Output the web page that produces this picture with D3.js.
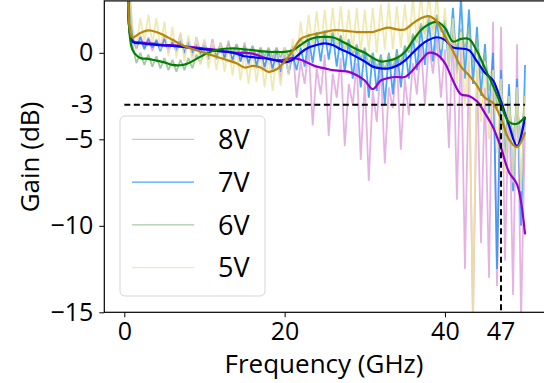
<!DOCTYPE html>
<html>
<head>
<meta charset="utf-8">
<script src="https://cdn.jsdelivr.net/npm/d3@7"></script>
<style>
  body { margin: 0; background: #fff; }
  svg text { font-family: 'Open Sans', sans-serif; fill: #000; }
</style>
</head>
<body>
<div id="chart"></div>
<script>
// series labels and colours (raw trace, smoothed fit)
const labels = ['8V', '7V', '6V', '5V'];
const rawColors = ['#dda0dd', '#1e90ff', '#8fbc8f', '#ece39c'];
const fitColors = ['#9400d3', '#0000ff', '#008000', '#b8860b'];

// raw traces, 0.5 GHz apart from 0.5 to 50 GHz
const rawFreq = d3.range(1, 101).map(i => i / 2);
const raw8V = [
  4.5, 1.2, 0.2, 1.0, 0.3, 0.9, 0.1, 0.8, 0.2, 1.0,
  0.0, 0.8, 0.1, 1.1, -0.1, 0.8, -0.2, 0.9, 0.0, 0.7,
  -0.3, 0.8, -0.4, 0.6, -0.3, 0.7, -0.6, 0.5, -0.5, 0.6,
  -0.7, 0.4, -0.9, 0.3, -1.0, 0.2, -1.1, 0.3, -1.6, 0.2,
  -1.2, 0.4, -2.6, -0.5, -1.8, 0.3, -4.2, -0.9, -2.4, -0.1,
  -4.8, -1.2, -2.6, -0.3, -5.4, -1.8, -3.0, -0.6, -6.2, -1.6,
  -7.4, -2.2, -4.0, -0.7, -6.4, -2.0, -3.2, -0.4, -5.6, -1.5,
  -3.6, -0.6, -2.4, 0.5, -3.0, 0.6, -1.2, 0.9, -2.6, 0.2,
  -5.5, 1.5, -8.5, 0.8, -12.5, -0.5, -15.5, -1.0, -11.0, -2.0,
  -13.0, 1.8, -13.5, 1.5, -12.0, -2.0, -14.0, 0.5, -15.5, -4.0
];
const raw7V = [
  4.5, 0.9, 0.3, 0.9, 0.2, 0.8, 0.3, 0.7, 0.1, 0.8,
  0.2, 0.6, 0.1, 0.7, 0.0, 0.6, 0.0, 0.5, -0.1, 0.5,
  -0.2, 0.4, -0.3, 0.4, -0.3, 0.3, -0.4, 0.3, -0.5, 0.2,
  -0.6, 0.1, -0.7, 0.1, -0.8, 0.0, -0.9, 0.0, -1.1, 0.0,
  -1.2, -0.1, -1.0, 0.3, -0.8, 0.8, -0.6, 1.2, -0.5, 1.3,
  -0.4, 1.1, -0.8, 1.0, -1.1, 0.7, -1.5, 0.4, -2.0, 0.2,
  -2.6, 0.0, -2.2, -0.1, -3.0, 0.0, -2.4, 0.2, -2.0, 0.4,
  -1.5, 1.0, -1.0, 1.5, -0.7, 1.8, -0.5, 2.0, -0.4, 1.8,
  -0.8, 2.6, -1.2, 3.2, -1.5, 2.5, -1.8, 1.5, -2.5, 0.5,
  -3.5, 0.0, -12.5, -1.0, -6.5, -1.8, -8.0, -1.5, -10.0, -0.7
];
const raw6V = [
  4.5, 0.5, -0.6, 0.0, -0.7, -0.1, -0.8, -0.2, -0.9, -0.3,
  -1.0, -0.4, -1.1, -0.4, -1.0, -0.3, -0.9, -0.1, -0.6, 0.2,
  -0.4, 0.4, -0.2, 0.5, -0.1, 0.5, 0.0, 0.5, -0.1, 0.4,
  -0.1, 0.4, -0.2, 0.3, -0.2, 0.3, -0.3, 0.3, -0.3, 0.3,
  -0.2, 0.4, 0.1, 0.8, 0.4, 1.1, 0.6, 1.2, 0.6, 1.2,
  0.6, 1.2, 0.4, 1.0, 0.2, 0.8, -0.1, 0.5, -0.4, 0.3,
  -0.7, 0.0, -0.9, -0.2, -1.0, -0.1, -0.9, 0.0, -0.6, 0.4,
  0.0, 1.1, 0.6, 1.7, 1.1, 2.1, 1.3, 2.2, 1.2, 1.9,
  0.2, 1.2, 0.2, 1.4, 0.2, 1.5, -0.6, 0.9, -1.2, 0.0,
  -2.2, -1.0, -3.2, -2.0, -4.8, -3.0, -5.0, -3.0, -5.0, -2.5
];
const raw5V = [
  4.5, 1.6, 0.3, 2.0, 0.6, 2.2, 0.5, 2.0, 0.2, 1.8,
  -0.2, 1.5, -0.3, 1.2, -0.5, 1.0, -0.6, 0.9, -0.7, 0.8,
  -0.9, 0.6, -1.0, 0.5, -1.1, 0.4, -1.3, 0.3, -1.6, 0.0,
  -1.8, 0.1, -1.7, 0.0, -2.0, -0.2, -2.2, -0.1, -1.9, 0.3,
  -1.3, 0.8, -0.6, 1.8, 0.0, 2.2, 0.2, 2.4, 0.2, 2.5,
  0.3, 2.6, 0.3, 2.7, 0.2, 2.5, 0.1, 2.6, 0.0, 2.5,
  0.1, 2.6, 0.0, 2.8, 0.2, 2.9, 0.2, 2.7, 0.3, 2.8,
  0.3, 3.2, 0.6, 3.5, 0.8, 3.5, 0.8, 3.4, 0.2, 2.6,
  -0.8, 2.0, -1.8, 1.2, -3.0, 0.6, -15.5, 0.0, -4.0, -0.5,
  -5.0, -1.0, -5.8, -1.5, -7.0, -2.5, -7.5, -2.0, -8.0, -2.5
];

// smoothed fits
const fitFreq = [0.5, 1, 2, 3, 4, 5, 6, 7, 8, 9, 10, 11, 12, 13, 14, 15, 16, 17, 18, 19, 20,
  21, 22, 23, 24, 25, 26, 27, 28, 29, 30, 31, 32, 33, 34, 35, 36, 37, 38, 39, 40,
  41, 42, 43, 44, 45, 46, 47, 48, 49, 50];
const fit8V = [3.8, 0.7, 0.6, 0.55, 0.5, 0.45, 0.45, 0.4, 0.35, 0.3, 0.25, 0.2, 0.12, 0.05, 0.0, 0.0,
  -0.05, -0.2, -0.35, -0.42, -0.4, -0.3, -0.4, -0.6, -0.8, -0.9, -1.0, -1.05, -1.1, -1.3, -1.6,
  -2.1, -1.6, -1.45, -1.4, -1.4, -1.0, -0.45, 0.0, -0.1, -0.6,
  -1.6, -2.4, -2.5, -2.8, -3.5, -4.3, -5.5, -6.9, -7.6, -10.5];
const fit7V = [3.8, 0.65, 0.55, 0.5, 0.45, 0.42, 0.4, 0.35, 0.3, 0.25, 0.2, 0.15, 0.08, 0.05, -0.05, -0.2,
  -0.25, -0.3, -0.35, -0.45, -0.55, -0.4, 0.0, 0.3, 0.45, 0.55, 0.45, 0.2, 0.0, -0.25, -0.5,
  -0.8, -0.9, -0.9, -0.75, -0.45, 0.0, 0.45, 0.75, 0.9, 0.75,
  0.3, 0.25, 0.15, -0.5, -1.15, -1.6, -2.8, -4.2, -5.4, -3.7];
const fit6V = [3.5, 0.2, -0.3, -0.35, -0.45, -0.55, -0.7, -0.72, -0.6, -0.35, -0.1, 0.1, 0.2, 0.25, 0.25, 0.2,
  0.15, 0.1, 0.05, 0.05, 0.05, 0.15, 0.45, 0.75, 0.9, 0.92, 0.9, 0.7, 0.45, 0.2, 0.0,
  -0.3, -0.5, -0.45, -0.3, 0.05, 0.7, 1.3, 1.65, 1.78, 1.45,
  0.65, 0.8, 0.8, 0.1, -0.9, -1.9, -3.0, -4.0, -4.1, -3.7];
const fit5V = [3.8, 0.9, 1.15, 1.3, 1.2, 1.0, 0.75, 0.5, 0.3, 0.15, 0.0, -0.15, -0.3, -0.45, -0.6, -0.85,
  -0.75, -0.85, -1.1, -0.95, -0.5, 0.1, 0.8, 1.0, 1.1, 1.2, 1.3, 1.3, 1.25, 1.2, 1.2,
  1.2, 1.35, 1.45, 1.35, 1.35, 1.7, 2.0, 2.12, 1.8, 0.95,
  0.1, -0.8, -1.3, -1.9, -2.6, -2.9, -3.8, -5.0, -5.45, -4.6];

// ticks and the -3 dB / 47 GHz markers
const xTicks = [0, 20, 40];
const yTicks = [0, -5, -10, -15];
const cutoffGain = -3;
const cutoffFreq = 47;
const cutoffEnd = 50;

const rawSeries = [raw8V, raw7V, raw6V, raw5V];
const fitSeries = [fit8V, fit7V, fit6V, fit5V];

const width = 544, height = 383;
const x = d3.scaleLinear().domain([-2.5, 52.5]).range([104.3, 545.1]);
const y = d3.scaleLinear().domain([-15, 3]).range([312.3, 0.9]);

const svg = d3.select('#chart').append('svg')
  .attr('width', width)
  .attr('height', height);

svg.append('clipPath').attr('id', 'plot-clip')
  .append('rect')
  .attr('x', x(-2.5)).attr('y', y(3))
  .attr('width', x(52.5) - x(-2.5))
  .attr('height', y(-15) - y(3));

const plot = svg.append('g').attr('clip-path', 'url(#plot-clip)');

const line = d3.line()
  .x(d => x(d[0]))
  .y(d => y(d[1]));
const smooth = d3.line()
  .x(d => x(d[0]))
  .y(d => y(d[1]))
  .curve(d3.curveCatmullRom.alpha(0.5));

// raw traces first, fits on top
rawSeries.forEach((s, i) => {
  plot.append('path')
    .datum(s.map((v, j) => [rawFreq[j], v]))
    .attr('d', line)
    .attr('fill', 'none')
    .attr('stroke', rawColors[i])
    .attr('stroke-opacity', 0.8)
    .attr('stroke-width', 1.8)
    .attr('stroke-linejoin', 'bevel');
});
fitSeries.forEach((s, i) => {
  plot.append('path')
    .datum(s.map((v, j) => [fitFreq[j], v]))
    .attr('d', smooth)
    .attr('fill', 'none')
    .attr('stroke', fitColors[i])
    .attr('stroke-width', 2.2);
});

// -3 dB line and the 47 GHz drop
plot.append('line')
  .attr('x1', x(0)).attr('x2', x(cutoffEnd))
  .attr('y1', y(cutoffGain)).attr('y2', y(cutoffGain))
  .attr('stroke', '#000').attr('stroke-width', 2)
  .attr('stroke-dasharray', '6,3.5');
plot.append('line')
  .attr('x1', x(cutoffFreq)).attr('x2', x(cutoffFreq))
  .attr('y1', y(cutoffGain)).attr('y2', y(-15))
  .attr('stroke', '#000').attr('stroke-width', 2)
  .attr('stroke-dasharray', '6,3.5');

// axes
const xAxis = svg.append('g')
  .attr('transform', `translate(0,${y(-15)})`)
  .call(d3.axisBottom(x).tickValues(xTicks).tickSize(5).tickSizeOuter(0).tickPadding(5));
const yAxis = svg.append('g')
  .attr('transform', `translate(${x(-2.5)},0)`)
  .call(d3.axisLeft(y).tickValues(yTicks).tickSize(5).tickSizeOuter(0).tickPadding(6));
[xAxis, yAxis].forEach(a => {
  a.select('.domain').remove();
  a.selectAll('.tick line').attr('stroke', '#000').attr('stroke-width', 1);
  a.selectAll('.tick text').style('font-size', '25px');
});
xAxis.append('text')
  .attr('x', x(cutoffFreq)).attr('y', 10)
  .attr('dy', '0.71em')
  .attr('text-anchor', 'middle')
  .style('font-size', '25px')
  .text(cutoffFreq);
svg.append('text')
  .attr('x', x(-2.5) - 11).attr('y', y(cutoffGain))
  .attr('dy', '0.32em')
  .attr('text-anchor', 'end')
  .style('font-size', '25px')
  .text('-3');

// spines
svg.append('rect')
  .attr('x', x(-2.5)).attr('y', y(3))
  .attr('width', x(52.5) - x(-2.5))
  .attr('height', y(-15) - y(3))
  .attr('fill', 'none')
  .attr('stroke', '#000')
  .attr('stroke-width', 1.2);

// axis titles
svg.append('text')
  .attr('x', 324).attr('y', 373)
  .attr('text-anchor', 'middle')
  .style('font-size', '26px')
  .text('Frequency (GHz)');
svg.append('text')
  .attr('transform', 'translate(39,157) rotate(-90)')
  .attr('text-anchor', 'middle')
  .style('font-size', '26px')
  .text('Gain (dB)');

// legend
const legend = svg.append('g');
legend.append('rect')
  .attr('x', 120).attr('y', 116)
  .attr('width', 145).attr('height', 180)
  .attr('rx', 5)
  .attr('fill', '#fff').attr('fill-opacity', 0.8)
  .attr('stroke', '#d5d5d5').attr('stroke-width', 1);
labels.forEach((lab, i) => {
  const ly = 139.3 + i * 42.8;
  legend.append('line')
    .attr('x1', 132).attr('x2', 194)
    .attr('y1', ly).attr('y2', ly)
    .attr('stroke', rawColors[i])
    .attr('stroke-opacity', 0.8)
    .attr('stroke-width', 1.3);
  legend.append('text')
    .attr('x', 218).attr('y', ly)
    .attr('dy', '0.36em')
    .style('font-size', '27px')
    .text(lab);
});
</script>
</body>
</html>
